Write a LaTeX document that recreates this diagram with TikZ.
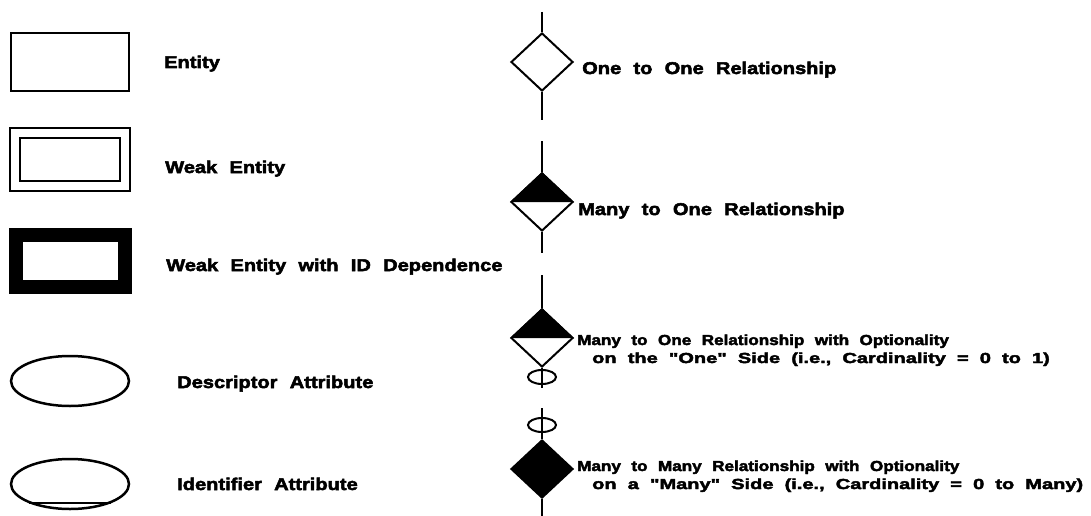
\documentclass[tikz,border=0pt]{standalone}
\usepackage{fontspec}
\usetikzlibrary{shapes.geometric}
\newfontfamily\lblfont{Liberation Sans}[FakeStretch=1.18,FakeBold=3,WordSpace=2.2]
\newfontfamily\lblwidefont{Liberation Sans}[FakeStretch=1.38,FakeBold=3,WordSpace=2.0]

\tikzset{
  lbl/.style={anchor=base west, inner sep=0pt, font=\lblfont\bfseries\fontsize{17}{20}\selectfont},
  lblsm/.style={anchor=base west, inner sep=0pt, font=\lblfont\bfseries\fontsize{14.5}{18}\selectfont},
  lblsmwide/.style={anchor=base west, inner sep=0pt, font=\lblwidefont\bfseries\fontsize{14.5}{18}\selectfont},
  reldia/.style={diamond, draw, line width=2pt, inner sep=0pt, minimum width=62pt, minimum height=58pt},
  stem/.style={line width=2pt},
  optring/.style={ellipse, draw, line width=2pt, inner sep=0pt, minimum width=28pt, minimum height=14pt},
  attr/.style={ellipse, draw, line width=2.5pt, inner sep=0pt, minimum width=118pt, minimum height=50pt}
}

\begin{document}
\begin{tikzpicture}[x=1pt,y=-1pt]
\useasboundingbox (0,0) rectangle (1091,516);
% left column: entity and attribute symbols
\node[draw, line width=2.5pt, inner sep=0pt, minimum width=118pt, minimum height=58pt] (entity) at (70,62) {};
\node[draw, line width=2pt, double, double distance=8pt, inner sep=0pt, minimum width=110pt, minimum height=53pt] (wkentity) at (70,159) {};
\node[draw, line width=14pt, inner sep=0pt, minimum width=109pt, minimum height=52pt] (identity) at (70,261) {};
\node[attr] (dsattr) at (70,381) {};
\node[attr] (idattr) at (70,484) {};
\draw[line width=2pt] (idattr.-155) -- (idattr.-25);

\node[lbl] (entitytxt) at (164,68) {Entity};
\node[lbl] (wkentitytxt) at (165,173) {Weak Entity};
\node[lbl] (identitytxt) at (166,271) {Weak Entity with ID Dependence};
\node[lbl] (dsattrtxt) at (177,388) {Descriptor Attribute};
\node[lbl] (idattrtxt) at (177,490) {Identifier Attribute};

% right column: relationship symbols
\node[reldia] (onerel) at (542,62) {};
\coordinate (onetop) at (542,12);
\coordinate (onebot) at (542,120);
\draw[stem] (onetop) -- (onerel.north);
\draw[stem] (onerel.south) -- (onebot);

\node[reldia] (manyrel) at (542,202) {};
\fill (manyrel.west) -- (manyrel.north) -- (manyrel.east) -- cycle;
\coordinate (manytop) at (542,141);
\coordinate (manybot) at (542,253);
\draw[stem] (manytop) -- (manyrel.north);
\draw[stem] (manyrel.south) -- (manybot);

\node[reldia] (optrel) at (542,338) {};
\fill (optrel.west) -- (optrel.north) -- (optrel.east) -- cycle;
\node[optring] (optring) at (542,377) {};
\coordinate (opttop) at (542,275);
\coordinate (optbot) at (542,388);
\draw[stem] (opttop) -- (optrel.north);
\draw[stem] (optrel.south) -- (optbot);

\node[reldia, fill=black] (mmrel) at (542,469) {};
\node[optring] (mmring) at (542,425) {};
\coordinate (mmtop) at (542,408);
\coordinate (mmbot) at (542,516);
\draw[stem] (mmtop) -- (mmrel.north);
\draw[stem] (mmrel.south) -- (mmbot);

\node[lbl] (onereltxt) at (582,74) {One to One Relationship};
\node[lbl] (manyreltxt) at (578,215) {Many to One Relationship};
\node[lblsm] (optreltxt) at (577,345) {Many to One Relationship with Optionality};
\node[lblsmwide] (optreltxtb) at (592,363) {on the "One" Side (i.e., Cardinality = 0 to 1)};
\node[lblsm] (mmreltxt) at (577,471) {Many to Many Relationship with Optionality};
\node[lblsmwide] (mmreltxtb) at (592,489) {on a "Many" Side (i.e., Cardinality = 0 to Many)};
\end{tikzpicture}
\end{document}
